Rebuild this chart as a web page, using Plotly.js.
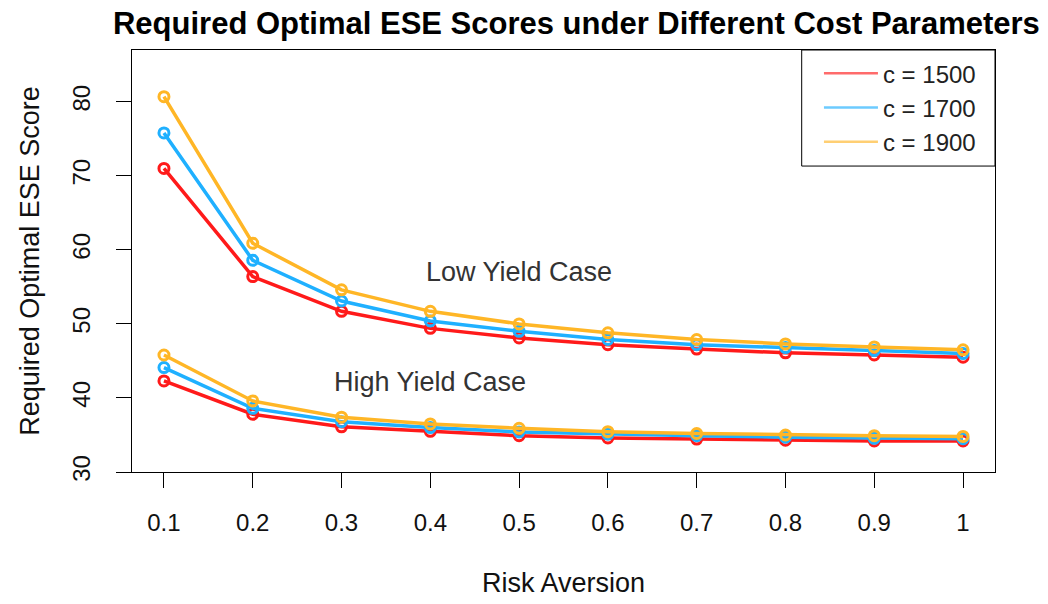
<!DOCTYPE html>
<html>
<head>
<meta charset="utf-8">
<script src="https://cdn.plot.ly/plotly-3.0.1.min.js"></script>
<style>html,body{margin:0;padding:0;background:#fff;}#chart{width:1048px;height:604px;}</style>
</head>
<body>
<div id="chart"></div>
<script>
// ---- data ----
const riskAversion = [0.1, 0.2, 0.3, 0.4, 0.5, 0.6, 0.7, 0.8, 0.9, 1.0];
const tickLabels = ["0.1", "0.2", "0.3", "0.4", "0.5", "0.6", "0.7", "0.8", "0.9", "1"];
const seriesNames = ["c = 1500", "c = 1700", "c = 1900"];

const low1500 = [71.0, 56.4, 51.7, 49.4, 48.1, 47.2, 46.6, 46.1, 45.8, 45.5];
const low1700 = [75.8, 58.6, 53.1, 50.4, 49.0, 47.9, 47.2, 46.8, 46.4, 46.0];
const low1900 = [80.7, 60.9, 54.6, 51.7, 50.0, 48.8, 47.9, 47.3, 46.9, 46.5];

const high1500 = [42.3, 37.8, 36.1, 35.5, 34.9, 34.6, 34.45, 34.3, 34.2, 34.2];
const high1700 = [44.1, 38.6, 36.8, 36.0, 35.4, 35.1, 34.9, 34.7, 34.55, 34.5];
const high1900 = [45.8, 39.6, 37.4, 36.5, 35.9, 35.45, 35.2, 35.0, 34.9, 34.8];

const colors = ["#FF1A1A", "#1FB0FF", "#FFB626"];
const legendColors = ["#FF6B6B", "#6CCBFF", "#FFCF73"];

const FONT = "Liberation Sans, Arial, Helvetica, sans-serif";

function seriesTrace(y, i) {
  return {
    x: riskAversion, y: y, type: "scatter", mode: "lines+markers",
    line: {color: colors[i], width: 3.5},
    marker: {symbol: "circle-open", size: 10, color: colors[i], line: {width: 3, color: colors[i]}},
    showlegend: false, hoverinfo: "x+y"
  };
}

const lows = [low1500, low1700, low1900];
const highs = [high1500, high1700, high1900];
const traces = [];
for (let i = 0; i < 3; i++) traces.push(seriesTrace(lows[i], i));
for (let i = 0; i < 3; i++) traces.push(seriesTrace(highs[i], i));
for (let i = 0; i < 3; i++) {
  traces.push({
    x: [null], y: [null], type: "scatter", mode: "lines",
    name: seriesNames[i], line: {color: legendColors[i], width: 2.5},
    showlegend: true, hoverinfo: "skip"
  });
}

const layout = {
  width: 1048, height: 604,
  margin: {l: 132, r: 53, t: 50, b: 132},
  paper_bgcolor: "#fff", plot_bgcolor: "#fff",
  font: {family: FONT, size: 24, color: "#000"},
  title: {
    text: "<b>Required Optimal ESE Scores under Different Cost Parameters</b>",
    font: {family: FONT, size: 31, color: "#000"},
    x: 0.55, xanchor: "center", y: 0.962, yanchor: "middle"
  },
  xaxis: {
    range: [0.064, 1.036], tickvals: riskAversion, ticktext: tickLabels,
    showgrid: false, zeroline: false,
    showline: true, mirror: true, linecolor: "#000", linewidth: 1,
    ticks: "outside", ticklen: 15, tickcolor: "#000", tickwidth: 1,
    ticklabelstandoff: 14,
    tickfont: {family: FONT, size: 24, color: "#111"},
    title: {text: "Risk Aversion", font: {family: FONT, size: 27, color: "#111"}, standoff: 38}
  },
  yaxis: {
    range: [30, 87], tickvals: [30, 40, 50, 60, 70, 80],
    showgrid: false, zeroline: false,
    showline: true, mirror: true, linecolor: "#000", linewidth: 1,
    ticks: "outside", ticklen: 15, tickcolor: "#000", tickwidth: 1,
    tickangle: -90, ticklabelstandoff: 16,
    tickfont: {family: FONT, size: 24, color: "#111"},
    title: {text: "Required Optimal ESE Score", font: {family: FONT, size: 27, color: "#111"}, standoff: 20}
  },
  legend: {
    x: 0.796, xanchor: "left", y: 0.997, yanchor: "top",
    itemwidth: 54,
    bgcolor: "rgba(0,0,0,0)", borderwidth: 0,
    font: {family: FONT, size: 24, color: "#222"}
  },
  shapes: [{
    type: "rect", xref: "paper", yref: "paper",
    x0: 0.776, x1: 1.0, y0: 0.725, y1: 1.0,
    line: {color: "#000", width: 1}, fillcolor: "rgba(0,0,0,0)"
  }],
  annotations: [
    {x: 0.5, y: 57.0, xref: "x", yref: "y", text: "Low Yield Case", showarrow: false,
     font: {family: FONT, size: 27, color: "#333"}},
    {x: 0.4, y: 42.2, xref: "x", yref: "y", text: "High Yield Case", showarrow: false,
     font: {family: FONT, size: 27, color: "#333"}}
  ]
};

Plotly.newPlot("chart", traces, layout, {staticPlot: true, displayModeBar: false});
</script>
</body>
</html>
